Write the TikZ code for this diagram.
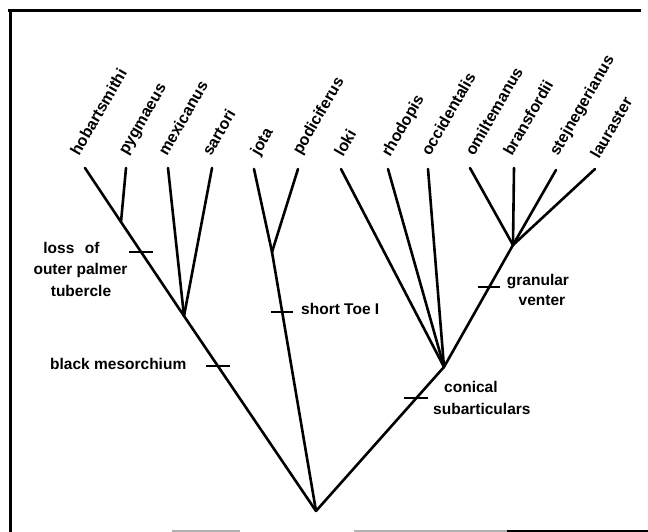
\documentclass[tikz,border=0pt]{standalone}
\usepackage{fontspec}
\setmainfont{Liberation Sans}
\usetikzlibrary{calc}
\begin{document}
\begin{tikzpicture}[x=1pt,y=-1pt,
  branch/.style={line width=2.6pt,line cap=round,line join=round},
  tickmark/.style={line width=1.8pt},
  taxon/.style={font=\fontsize{16}{16}\selectfont\bfseries,rotate=60,anchor=base west,inner sep=0pt},
  trait/.style={font=\fontsize{15.5}{18}\selectfont\bfseries,inner sep=0pt},
  framepart/.style={line width=3pt},
  scanedge/.style={line width=1.5pt,black!30}]
\useasboundingbox (0,0) rectangle (648,532);
% frame
\draw[framepart] (8,11) -- (641,11);
\draw[framepart] (10,10) -- (10,532);
\draw[framepart] (507,531) -- (648,531);
\draw[scanedge] (354,531) -- (507,531);
\draw[scanedge] (172,531) -- (240,531);
% tips
\coordinate (hob) at (85,168);
\coordinate (pyg) at (126,168);
\coordinate (mex) at (168,168);
\coordinate (sar) at (212,168);
\coordinate (jot) at (254,169);
\coordinate (pod) at (298,169);
\coordinate (lok) at (341,169);
\coordinate (rho) at (388,169);
\coordinate (occ) at (428,169);
\coordinate (omi) at (470,168);
\coordinate (bra) at (514,168);
\coordinate (ste) at (556,170);
\coordinate (lau) at (595,169);
% internal nodes
\coordinate (A) at (121,222);
\coordinate (B) at (184,316);
\coordinate (C) at (272,252);
\coordinate (D) at (444,367);
\coordinate (E) at (513,245);
\coordinate (R) at (316,511);
% branches
\draw[branch] (hob) -- (A);
\draw[branch] (pyg) -- (A);
\draw[branch] (A) -- (B);
\draw[branch] (mex) -- (B);
\draw[branch] (sar) -- (B);
\draw[branch] (B) -- (R);
\draw[branch] (jot) -- (C);
\draw[branch] (pod) -- (C);
\draw[branch] (C) -- (R);
\draw[branch] (lok) -- (D);
\draw[branch] (rho) -- (D);
\draw[branch] (occ) -- (D);
\draw[branch] (omi) -- (E);
\draw[branch] (bra) -- (E);
\draw[branch] (ste) -- (E);
\draw[branch] (lau) -- (E);
\draw[branch] (E) -- (D);
\draw[branch] (D) -- (R);
% taxon labels
\node[taxon] (Lhob) at (79,157) {hobartsmithi};
\node[taxon] (Lpyg) at (127,156) {pygmaeus};
\node[taxon] (Lmex) at (167,157) {mexicanus};
\node[taxon] (Lsar) at (211,157) {sartori};
\node[taxon] (Ljot) at (259,157) {jota};
\node[taxon] (Lpod) at (301,156) {podiciferus};
\node[taxon] (Llok) at (343,158) {loki};
\node[taxon] (Lrho) at (390,158) {rhodopis};
\node[taxon] (Locc) at (430,157) {occidentalis};
\node[taxon] (Lomi) at (474,157) {omiltemanus};
\node[taxon] (Lbra) at (512,157) {bransfordii};
\node[taxon] (Lste) at (558,157) {stejnegerianus};
\node[taxon] (Llau) at (599,160) {lauraster};
% character ticks
\coordinate (t1) at ($(A)!0.32!(B)$);
\coordinate (t2) at ($(B)!0.256!(R)$);
\coordinate (t3) at ($(C)!0.232!(R)$);
\coordinate (t4) at ($(E)!0.344!(D)$);
\coordinate (t5) at ($(D)!0.215!(R)$);
\draw[tickmark] ([xshift=-12pt]t1) -- ([xshift=12pt]t1);
\draw[tickmark] ([xshift=-12pt]t2) -- ([xshift=12pt]t2);
\draw[tickmark] ([xshift=-11pt]t3) -- ([xshift=11pt]t3);
\draw[tickmark] ([xshift=-11pt]t4) -- ([xshift=11pt]t4);
\draw[tickmark] ([xshift=-12pt]t5) -- ([xshift=12pt]t5);
% character labels
\node[trait,anchor=base] (c1a) at (71.5,253) {loss\hspace{0.4em} of};
\node[trait,anchor=base] (c1b) at (80.5,274) {outer palmer};
\node[trait,anchor=base] (c1c) at (81,296) {tubercle};
\node[trait,anchor=base west] (c2) at (50,369) {black mesorchium};
\node[trait,anchor=base west] (c3) at (301,314) {short Toe I};
\node[trait,anchor=base] (c4a) at (538,285) {granular};
\node[trait,anchor=base] (c4b) at (542,305) {venter};
\node[trait,anchor=base west] (c5a) at (444,392) {conical};
\node[trait,anchor=base west] (c5b) at (433,414) {subarticulars};
\end{tikzpicture}
\end{document}
